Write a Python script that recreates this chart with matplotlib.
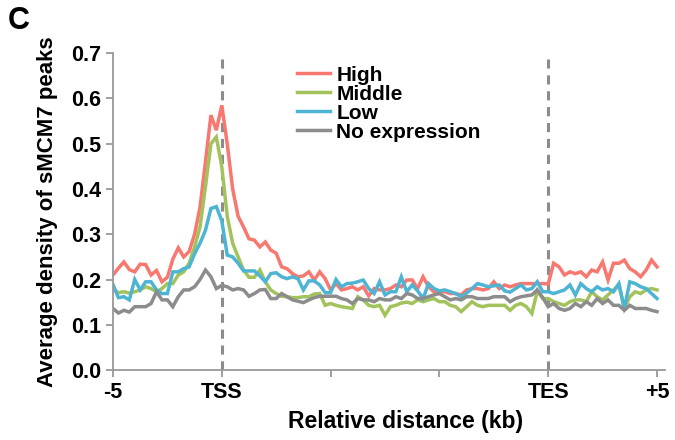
import numpy as np
import matplotlib
matplotlib.use('Agg')
import matplotlib.pyplot as plt

# bins along the meta-gene: 0-20 upstream, 20-80 gene body, 80-100 downstream
high = [0.21, 0.225, 0.239, 0.222, 0.217, 0.234, 0.233, 0.21, 0.22, 0.195,
        0.205, 0.245, 0.27, 0.25, 0.262, 0.30, 0.36, 0.46, 0.563, 0.53,
        0.585, 0.50, 0.40, 0.34, 0.316, 0.29, 0.287, 0.272, 0.283, 0.265,
        0.258, 0.228, 0.224, 0.213, 0.206, 0.208, 0.217, 0.199, 0.217, 0.202,
        0.177, 0.191, 0.177, 0.18, 0.184, 0.177, 0.184, 0.164, 0.180, 0.177,
        0.177, 0.180, 0.188, 0.184, 0.199, 0.199, 0.180, 0.206, 0.184, 0.173,
        0.173, 0.173, 0.169, 0.169, 0.166, 0.177, 0.180, 0.180, 0.177, 0.180,
        0.195, 0.180, 0.188, 0.184, 0.188, 0.191, 0.191, 0.191, 0.191, 0.191,
        0.19, 0.236, 0.228, 0.21, 0.217, 0.213, 0.217, 0.206, 0.221, 0.217,
        0.239, 0.199, 0.236, 0.236, 0.243, 0.224, 0.217, 0.206, 0.221, 0.243,
        0.228]
middle = [0.177, 0.171, 0.173, 0.17, 0.173, 0.177, 0.184, 0.18, 0.173, 0.18,
          0.191, 0.191, 0.21, 0.217, 0.236, 0.272, 0.316, 0.405, 0.50, 0.515,
          0.449, 0.34, 0.28, 0.25, 0.221, 0.205, 0.205, 0.221, 0.195, 0.177,
          0.169, 0.163, 0.162, 0.160, 0.160, 0.162, 0.162, 0.168, 0.169, 0.143,
          0.147, 0.143, 0.140, 0.138, 0.136, 0.162, 0.155, 0.143, 0.140, 0.143,
          0.121, 0.140, 0.143, 0.148, 0.150, 0.147, 0.155, 0.151, 0.155, 0.158,
          0.151, 0.151, 0.143, 0.140, 0.129, 0.140, 0.151, 0.143, 0.140, 0.143,
          0.143, 0.143, 0.143, 0.132, 0.143, 0.147, 0.140, 0.125, 0.175, 0.158,
          0.158, 0.151, 0.147, 0.143, 0.151, 0.155, 0.155, 0.151, 0.173, 0.162,
          0.155, 0.166, 0.177, 0.188, 0.136, 0.162, 0.173, 0.169, 0.177, 0.180,
          0.177]
low = [0.189, 0.16, 0.162, 0.155, 0.2, 0.177, 0.195, 0.195, 0.177, 0.169,
       0.169, 0.217, 0.217, 0.224, 0.228, 0.257, 0.28, 0.309, 0.357, 0.361,
       0.33, 0.254, 0.25, 0.236, 0.219, 0.219, 0.219, 0.208, 0.195, 0.213,
       0.215, 0.206, 0.202, 0.206, 0.202, 0.177, 0.197, 0.197, 0.188, 0.171,
       0.171, 0.20, 0.184, 0.191, 0.192, 0.195, 0.199, 0.18, 0.169, 0.195,
       0.166, 0.173, 0.173, 0.206, 0.173, 0.188, 0.175, 0.158, 0.191, 0.180,
       0.175, 0.177, 0.173, 0.169, 0.162, 0.170, 0.180, 0.191, 0.188, 0.184,
       0.186, 0.188, 0.175, 0.172, 0.180, 0.188, 0.177, 0.180, 0.195, 0.173,
       0.173, 0.169, 0.173, 0.177, 0.188, 0.166, 0.191, 0.180, 0.173, 0.184,
       0.177, 0.180, 0.173, 0.191, 0.136, 0.195, 0.191, 0.184, 0.180, 0.169,
       0.158]
no_expr = [0.136, 0.126, 0.132, 0.128, 0.14, 0.14, 0.14, 0.147, 0.173, 0.155,
           0.155, 0.14, 0.162, 0.177, 0.177, 0.184, 0.2, 0.221, 0.206, 0.18,
           0.187, 0.184, 0.177, 0.180, 0.177, 0.163, 0.169, 0.177, 0.178, 0.158,
           0.158, 0.169, 0.162, 0.155, 0.152, 0.149, 0.155, 0.160, 0.163, 0.163,
           0.163, 0.163, 0.158, 0.155, 0.147, 0.158, 0.155, 0.155, 0.151, 0.158,
           0.155, 0.155, 0.162, 0.158, 0.169, 0.166, 0.158, 0.158, 0.162, 0.166,
           0.169, 0.162, 0.155, 0.158, 0.155, 0.162, 0.162, 0.158, 0.158, 0.158,
           0.162, 0.162, 0.162, 0.151, 0.158, 0.162, 0.164, 0.166, 0.177, 0.16,
           0.14, 0.147, 0.136, 0.132, 0.136, 0.147, 0.140, 0.151, 0.143, 0.158,
           0.147, 0.155, 0.143, 0.143, 0.132, 0.143, 0.136, 0.136, 0.136, 0.132,
           0.129]

series_labels = ['High', 'Middle', 'Low', 'No expression']
tick_pos = [0, 20, 40, 60, 80, 100]
tick_labels = ['-5', 'TSS', '', '', 'TES', '+5']

colors = ['#F8776F', '#A2C35C', '#4DB5D3', '#8C8C8C']

plt.rcParams['font.family'] = ['Liberation Sans', 'DejaVu Sans']
plt.rcParams['font.weight'] = 'bold'

fig = plt.figure(figsize=(6.75, 4.4), dpi=100)
ax = fig.add_axes([0.1674, 0.159, 0.818, 0.72])

x = np.arange(len(high))
for vals, lab, c in zip([high, middle, low, no_expr], series_labels, colors):
    ax.plot(x, vals, color=c, lw=2.5, label=lab, solid_joinstyle='miter')

# TSS / TES markers
for xv in [20, 80]:
    ax.axvline(xv, color='#8C8C8C', lw=2.2, ls=(0, (3, 2.2)), zorder=0)

ax.set_xlim(0, 101.5)
ax.set_ylim(0, 0.7)
ax.set_xticks(tick_pos)
ax.set_xticklabels(tick_labels)
ax.set_yticks(np.arange(0, 0.71, 0.1))
ax.set_yticklabels([f'{v:.1f}' for v in np.arange(0, 0.71, 0.1)])

for s in ['top', 'right']:
    ax.spines[s].set_visible(False)
for s in ['left', 'bottom']:
    ax.spines[s].set_color('#999999')
    ax.spines[s].set_linewidth(1.3)
ax.tick_params(colors='#999999', labelcolor='black', labelsize=15.5,
               length=5, width=1.3, direction='out')

ax.set_xlabel('Relative distance (kb)', fontsize=16.5, fontweight='bold')
ax.set_ylabel('Average density of sMCM7 peaks', fontsize=16, fontweight='bold')
ax.xaxis.set_label_coords(0.53, -0.125)
ax.yaxis.set_label_coords(-0.10, 0.5)

ax.legend(loc='upper left', bbox_to_anchor=(0.31, 1.0), frameon=False,
          fontsize=15, handlelength=1.6, handletextpad=0.3, labelspacing=0.0,
          borderaxespad=0.2)

fig.text(0.012, 0.935, 'C', fontsize=22, fontweight='bold')

fig.savefig('out.png', dpi=100)
